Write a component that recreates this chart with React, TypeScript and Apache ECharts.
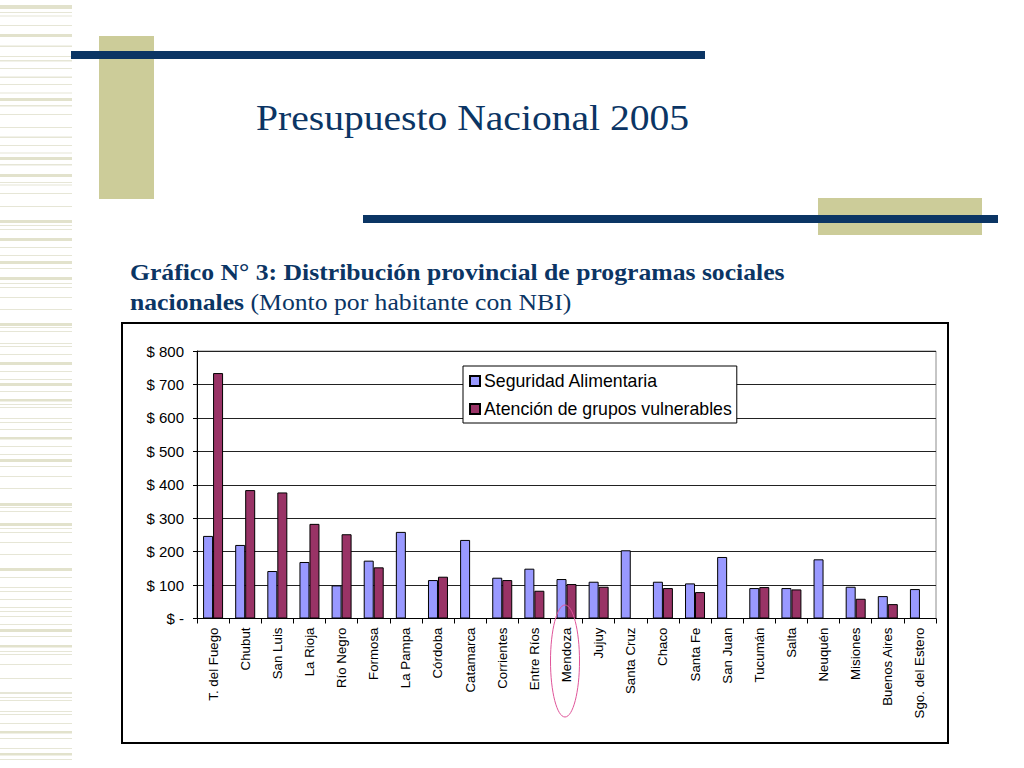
import React, { useEffect, useRef } from "react";
import * as echarts from "echarts";

const categories = [
  "T. del Fuego", "Chubut", "San Luis", "La Rioja", "Río Negro", "Formosa",
  "La Pampa", "Córdoba", "Catamarca", "Corrientes", "Entre Ríos", "Mendoza",
  "Jujuy", "Santa Cruz", "Chaco", "Santa Fe", "San Juan", "Tucumán", "Salta",
  "Neuquén", "Misiones", "Buenos Aires", "Sgo. del Estero",
];

const seguridadAlimentaria = [
  247, 220, 142, 169, 99, 173, 259, 115, 235, 122, 149, 118,
  110, 204, 110, 105, 184, 91, 91, 177, 95, 67, 88,
];

const atencionGrupos = [
  734, 384, 377, 283, 252, 153, null, 125, null, 115, 83, 103,
  95, null, 91, 79, null, 94, 87, null, 59, 43, null,
];

const yTickLabels = ["$ -", "$ 100", "$ 200", "$ 300", "$ 400", "$ 500", "$ 600", "$ 700", "$ 800"];

const seriesNames = ["Seguridad Alimentaria", "Atención de grupos vulnerables"];

const titleText = "Presupuesto Nacional 2005";
const subtitleBold = "Gráfico N° 3: Distribución provincial de programas sociales";
const subtitleBold2 = "nacionales";
const subtitleNormal = "(Monto por habitante con NBI)";

// decorative stripes of the slide template: [y, height]
const stripes: number[][] = [
  [5, 4], [12, 1], [15.5, 1], [25, 1], [34, 3], [45.5, 1.5], [56, 1], [60, 1.5], [68, 1],
  [76.5, 1.5], [84, 1], [92.5, 1], [98, 3], [105, 1.5], [114, 1], [127, 1], [136.5, 1.5],
  [145, 1], [152.5, 1], [157, 3], [164, 1.5], [174, 3], [182, 1], [184.5, 1], [193, 1],
  [206, 1], [220, 3], [225, 1], [229, 1], [238, 3], [247, 1], [255, 1], [261, 3], [268, 1],
  [277, 3], [283, 1], [287, 1], [297, 1], [309, 1], [323, 3], [327, 1], [331, 1], [343, 1],
  [346, 1], [354, 1], [362, 3], [371, 1], [379, 1], [383, 3], [391, 1], [399, 2.5], [404, 1],
  [407, 1], [418, 1], [422, 1], [429, 1], [437, 2.5], [446, 1], [454, 1], [459, 3], [466, 1],
  [476, 1], [488, 1], [503, 3], [507, 1], [511, 1], [523, 3], [528, 1], [532, 1], [542, 1],
  [554, 1], [568, 3], [577, 1], [587, 1], [591, 1], [599, 1], [607, 1], [611, 1], [616, 1],
  [624, 1], [629, 3], [636, 1], [645, 2.5], [651, 1], [654, 1], [664, 1], [678, 1], [692, 2],
  [697, 1], [700, 1], [711, 1], [714, 1], [723, 1], [731, 2.5], [738, 1], [748, 1], [753, 2.5],
  [759, 1],
];

const NAVY = "#0B3564";
const KHAKI = "#CCCC99";
const BLUE = "#9999FF";
const PLUM = "#993366";
const SANS = "'Liberation Sans', Arial, sans-serif";
const SERIF = "'Liberation Serif', 'Times New Roman', serif";

export default function App() {
  const ref = useRef<HTMLDivElement>(null);

  useEffect(() => {
    if (!ref.current) return;
    const chart = echarts.init(ref.current, undefined, { renderer: "svg" });

    const stripeEls = stripes.map(([y, h]) => ({
      type: "rect",
      shape: { x: 0, y, width: 72, height: h },
      style: { fill: h > 2 ? "#E2E2CC" : "#E6E6D6" },
      silent: true,
      z: 0,
    }));

    chart.setOption({
      animation: false,
      backgroundColor: "#ffffff",
      textStyle: { fontFamily: SANS },
      grid: {
        left: 197,
        right: 88,
        top: 351,
        bottom: 149.5,
        show: true,
        borderColor: "#8c8c8c",
        borderWidth: 1,
        backgroundColor: "transparent",
      },
      legend: {
        orient: "vertical",
        left: 463,
        top: 366,
        backgroundColor: "#ffffff",
        borderColor: "#000000",
        borderWidth: 1,
        borderRadius: 0,
        padding: [6, 5, 5, 6],
        itemGap: 10,
        itemWidth: 10,
        itemHeight: 10,
        icon: "rect",
        textStyle: { fontSize: 17.7, color: "#000", fontFamily: SANS, padding: [0, 0, 0, -1] },
        data: seriesNames,
        z: 10,
      },
      xAxis: {
        type: "category",
        data: categories,
        boundaryGap: true,
        axisLine: { lineStyle: { color: "#000", width: 1 } },
        axisTick: { show: true, inside: false, length: 5, alignWithLabel: false, lineStyle: { color: "#000" } },
        axisLabel: {
          rotate: 90,
          interval: 0,
          margin: 9,
          fontSize: 13.3,
          color: "#000",
          fontFamily: SANS,
        },
        splitLine: { show: false },
      },
      yAxis: {
        type: "value",
        min: 0,
        max: 800,
        interval: 100,
        axisLine: { show: true, lineStyle: { color: "#000", width: 1 } },
        axisTick: { show: true, length: 4, lineStyle: { color: "#000" } },
        axisLabel: {
          fontSize: 15,
          color: "#000",
          margin: 13,
          fontFamily: SANS,
          formatter: (v: number) => yTickLabels[Math.round(v / 100)] ?? "",
        },
        splitLine: { show: true, lineStyle: { color: "#222", width: 1 } },
      },
      series: [
        {
          name: seriesNames[0],
          type: "bar",
          data: seguridadAlimentaria,
          barWidth: 10,
          barGap: "0%",
          itemStyle: { color: BLUE, borderColor: "#000", borderWidth: 1 },
        },
        {
          name: seriesNames[1],
          type: "bar",
          data: atencionGrupos,
          barWidth: 10,
          barGap: "0%",
          itemStyle: { color: PLUM, borderColor: "#000", borderWidth: 1 },
        },
      ],
      graphic: [
        ...stripeEls,
        {
          type: "rect",
          shape: { x: 99, y: 36, width: 55, height: 163 },
          style: { fill: KHAKI },
          silent: true,
          z: 1,
        },
        {
          type: "rect",
          shape: { x: 71, y: 51, width: 634, height: 8 },
          style: { fill: NAVY },
          silent: true,
          z: 2,
        },
        {
          type: "rect",
          shape: { x: 818, y: 198, width: 164, height: 37 },
          style: { fill: KHAKI },
          silent: true,
          z: 1,
        },
        {
          type: "rect",
          shape: { x: 363, y: 215, width: 635, height: 8 },
          style: { fill: NAVY },
          silent: true,
          z: 2,
        },
        {
          type: "text",
          x: 256,
          y: 118,
          scaleX: 1.1,
          style: {
            text: titleText,
            x: 0,
            y: 0,
            fontFamily: SERIF,
            fontSize: 36,
            fill: NAVY,
            align: "left",
            verticalAlign: "middle",
          },
          z: 3,
        },
        {
          type: "text",
          x: 130,
          y: 272,
          scaleX: 1.07,
          style: {
            text: subtitleBold,
            x: 0,
            y: 0,
            fontFamily: SERIF,
            fontSize: 24,
            fontWeight: "bold",
            fill: NAVY,
            align: "left",
            verticalAlign: "middle",
          },
          z: 3,
        },
        {
          type: "text",
          x: 130,
          y: 302,
          scaleX: 1.07,
          style: {
            text: "{b|" + subtitleBold2 + "} {n|" + subtitleNormal + "}",
            x: 0,
            y: 0,
            fontFamily: SERIF,
            fontSize: 24,
            fill: NAVY,
            align: "left",
            verticalAlign: "middle",
            rich: {
              b: { fontFamily: SERIF, fontSize: 24, fontWeight: "bold", fill: NAVY, color: NAVY },
              n: { fontFamily: SERIF, fontSize: 24, fill: NAVY, color: NAVY },
            },
          },
          z: 3,
        },
        {
          type: "rect",
          shape: { x: 122, y: 323, width: 826, height: 420 },
          style: { fill: "none", stroke: "#000", lineWidth: 2 },
          silent: true,
          z: 3,
        },
        {
          type: "ellipse",
          shape: { cx: 565, cy: 661, rx: 14.5, ry: 56 },
          style: { fill: "none", stroke: "#E0559A", lineWidth: 1 },
          silent: true,
          z: 20,
        },
      ],
    });

    return () => chart.dispose();
  }, []);

  return (
    <div
      ref={ref}
      style={{ position: "absolute", left: 0, top: 0, width: 1024, height: 768 }}
    />
  );
}
